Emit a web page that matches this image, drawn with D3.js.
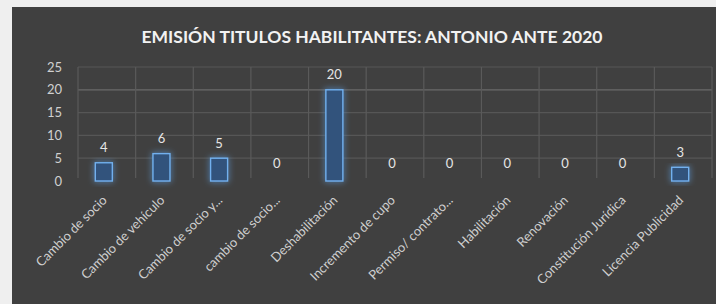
<!DOCTYPE html>
<html>
<head>
<meta charset="utf-8">
<script src="https://cdn.jsdelivr.net/npm/d3@7"></script>
<style>
  body { margin: 0; background: #efefef; }
  svg { display: block; }
</style>
</head>
<body>
<div id="chart"></div>
<script>
// data
var categories = ["Cambio de socio", "Cambio de vehículo", "Cambio de socio y...", "cambio de socio...",
  "Deshabilitación", "Incremento de cupo", "Permiso/ contrato...", "Habilitación",
  "Renovación", "Constitución Jurídica", "Licencia Publicidad"];
var values = [4, 6, 5, 0, 20, 0, 0, 0, 0, 0, 3];
var yTicks = [0, 5, 10, 15, 20, 25];
var title = "EMISIÓN TITULOS HABILITANTES: ANTONIO ANTE 2020";

var W = 716, H = 304;
var font = "Lato, 'Open Sans', sans-serif";

var svg = d3.select("#chart").append("svg")
    .attr("width", W)
    .attr("height", H);

// glow for the bars
var defs = svg.append("defs");
var glow = defs.append("filter").attr("id", "glow")
    .attr("x", "-60%").attr("y", "-30%").attr("width", "220%").attr("height", "160%");
glow.append("feGaussianBlur").attr("in", "SourceGraphic").attr("stdDeviation", 3).attr("result", "b");
var merge = glow.append("feMerge");
merge.append("feMergeNode").attr("in", "b");
merge.append("feMergeNode").attr("in", "SourceGraphic");

// dark panel
svg.append("rect")
    .attr("x", 12).attr("y", 7)
    .attr("width", W - 12).attr("height", H - 7)
    .attr("fill", "#404040");

var x = d3.scaleBand().domain(categories).range([78, 712]);
var y = d3.scaleLinear().domain([0, 25]).range([181, 67]);

// grid
svg.append("g").selectAll("line")
    .data(yTicks.filter(function (d) { return d > 0; }))
    .enter().append("line")
    .attr("x1", 78).attr("x2", 712)
    .attr("y1", function (d) { return y(d); })
    .attr("y2", function (d) { return y(d); })
    .attr("stroke", function (d) { return d === 20 ? "#6a6a6a" : "#565656"; })
    .attr("stroke-width", 1.2);

var bounds = categories.map(function (c) { return x(c); }).concat([712]);
svg.append("g").selectAll("line")
    .data(bounds)
    .enter().append("line")
    .attr("x1", function (d) { return d; })
    .attr("x2", function (d) { return d; })
    .attr("y1", y(25)).attr("y2", y(0) - 3)
    .attr("stroke", "#5a5a5a")
    .attr("stroke-width", 1.2);

// y axis labels
svg.append("g").selectAll("text")
    .data(yTicks)
    .enter().append("text")
    .attr("x", 62)
    .attr("y", function (d) { return y(d); })
    .attr("dy", "0.35em")
    .attr("text-anchor", "end")
    .attr("fill", "#d0d0d0")
    .style("font", "13px " + font)
    .text(function (d) { return d; });

// bars
var bw = 17;
svg.append("g").selectAll("rect")
    .data(values.map(function (v, i) { return { c: categories[i], v: v }; })
      .filter(function (d) { return d.v > 0; }))
    .enter().append("rect")
    .attr("x", function (d) { return x(d.c) + x.bandwidth() / 2 - bw / 2 - 3; })
    .attr("y", function (d) { return y(d.v); })
    .attr("width", bw)
    .attr("height", function (d) { return y(0) - y(d.v); })
    .attr("fill", "#30527c")
    .attr("stroke", "#72b0ee")
    .attr("stroke-width", 1.4)
    .attr("filter", "url(#glow)");

// value labels
svg.append("g").selectAll("text")
    .data(values)
    .enter().append("text")
    .attr("x", function (d, i) { return x(categories[i]) + x.bandwidth() / 2 - 3; })
    .attr("y", function (d) { return d > 0 ? y(d) - 15 : y(0) - 18; })
    .attr("dy", "0.35em")
    .attr("text-anchor", "middle")
    .attr("fill", "#e6e6e6")
    .style("font", "13px " + font)
    .text(function (d) { return d; });

// category labels
svg.append("g").selectAll("text")
    .data(categories)
    .enter().append("text")
    .attr("transform", function (d) {
      return "translate(" + (x(d) + x.bandwidth() / 2 + 1) + ",201) rotate(-45)";
    })
    .attr("text-anchor", "end")
    .attr("fill", "#cfcfcf")
    .style("font", "13px " + font)
    .text(function (d) { return d; });

// title
svg.append("text")
    .attr("x", 372).attr("y", 37)
    .attr("dy", "0.35em")
    .attr("text-anchor", "middle")
    .attr("fill", "#f2f2f2")
    .style("font", "bold 17.5px " + font)
    .text(title);
</script>
</body>
</html>
